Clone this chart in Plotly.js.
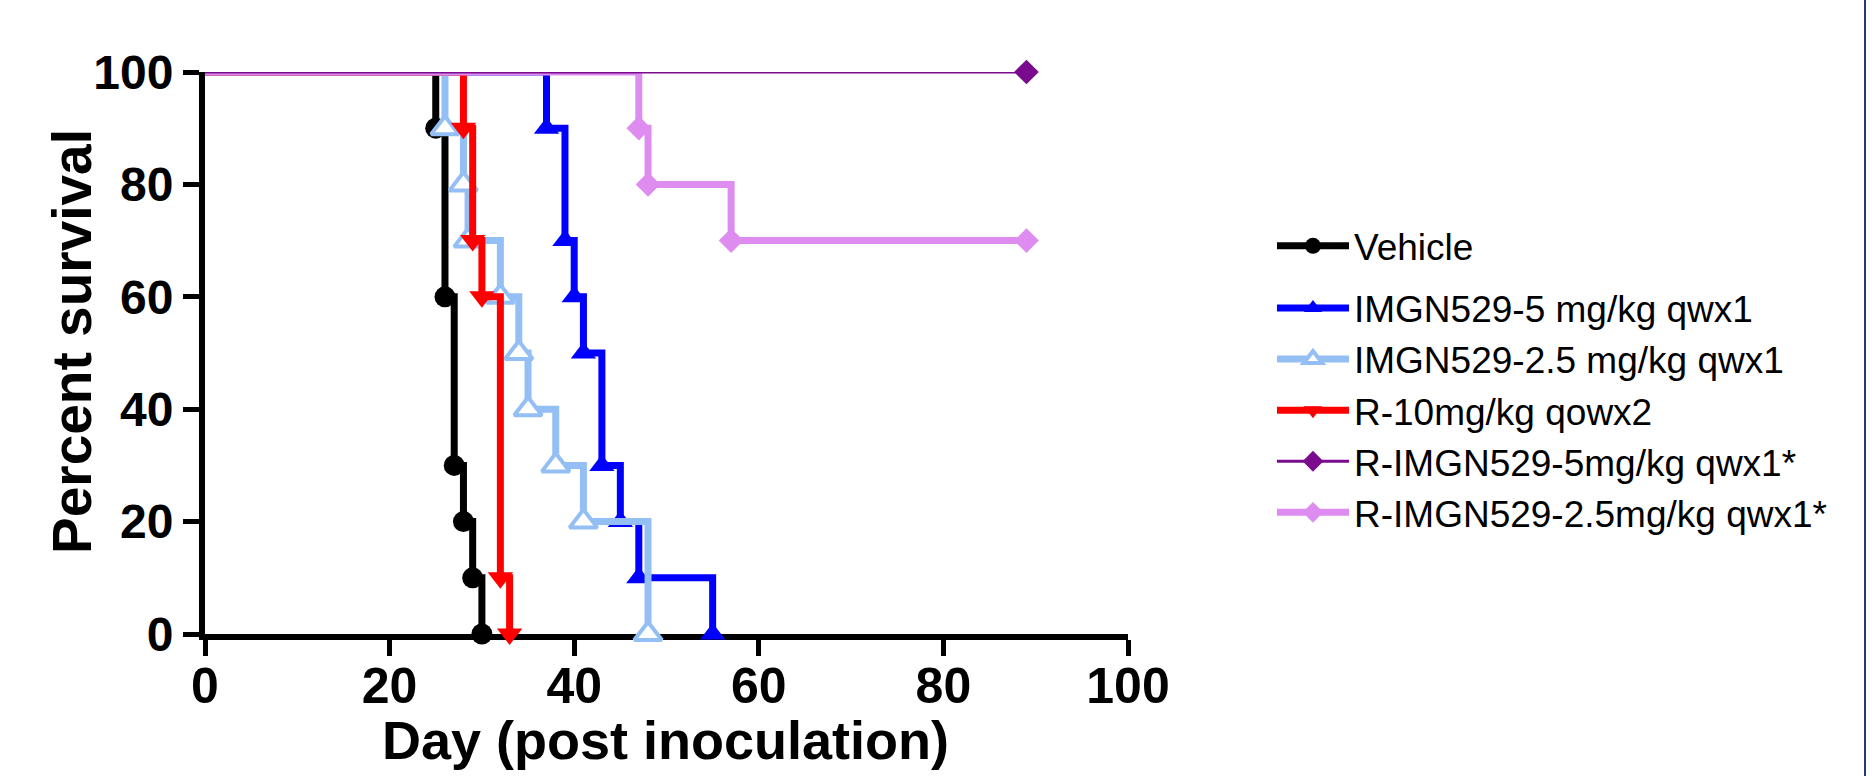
<!DOCTYPE html>
<html>
<head>
<meta charset="utf-8">
<script src="https://cdn.plot.ly/plotly-3.0.1.min.js"></script>
<style>
  html, body { margin: 0; padding: 0; background: #ffffff; overflow: hidden; }
  #chart { width: 1872px; height: 776px; }
  #edge { position: absolute; left: 1864px; top: 0; width: 2px; height: 776px; background: #1f3a75; }
</style>
</head>
<body>
<div id="chart"></div>
<div id="edge"></div>
<script>
// ---- data ----
const seriesNames = [
  "Vehicle",
  "IMGN529-5 mg/kg qwx1",
  "IMGN529-2.5 mg/kg qwx1",
  "R-10mg/kg qowx2",
  "R-IMGN529-5mg/kg qwx1*",
  "R-IMGN529-2.5mg/kg qwx1*"
];
const vehicleDays = [0, 25, 26, 27, 28, 29, 30];
const vehicleSurv = [100, 90, 60, 30, 20, 10, 0];
const imgn5Days = [0, 37, 39, 40, 41, 43, 45, 47, 55];
const imgn5Surv = [100, 90, 70, 60, 50, 30, 20, 10, 0];
const imgn25Days = [0, 26, 28, 28.5, 32, 34, 35, 38, 41, 48];
const imgn25Surv = [100, 90, 80, 70, 60, 50, 40, 30, 20, 0];
const r10Days = [0, 28, 29, 30, 32, 33];
const r10Surv = [100, 90, 70, 60, 10, 0];
const rImgn5Days = [0, 89];
const rImgn5Surv = [100, 100];
const rImgn25Days = [0, 47, 48, 57, 89];
const rImgn25Surv = [100, 90, 80, 70, 70];
const xTickVals = [0, 20, 40, 60, 80, 100];
const yTickVals = [0, 20, 40, 60, 80, 100];
const xTitle = "Day (post inoculation)";
const yTitle = "Percent survival";

// ---- styles ----
const FONT = "Liberation Sans, Arial, sans-serif";
const styles = [
  {color: "#000000", symbol: "circle", size: 21, lw: 7, fill: "#000000", mlw: 0},
  {color: "#0000ff", symbol: "triangle-up", size: 22, lw: 7, fill: "#0000ff", mlw: 0},
  {color: "#94bff5", symbol: "triangle-up", size: 24, lw: 7, fill: "#ffffff", mlw: 4},
  {color: "#ff0000", symbol: "triangle-down", size: 22, lw: 7, fill: "#ff0000", mlw: 0},
  {color: "#7b0b8e", symbol: "diamond", size: 19, lw: 3, fill: "#7b0b8e", mlw: 0},
  {color: "#de8cf0", symbol: "diamond", size: 19, lw: 7, fill: "#de8cf0", mlw: 0}
];
const seriesDays = [vehicleDays, imgn5Days, imgn25Days, r10Days, rImgn5Days, rImgn25Days];
const seriesSurv = [vehicleSurv, imgn5Surv, imgn25Surv, r10Surv, rImgn5Surv, rImgn25Surv];
// drawing order (bottom -> top), legend order kept by legendrank
const drawOrder = [0, 1, 2, 3, 5, 4];

const traces = [];
drawOrder.forEach(function (i) {
  const s = styles[i];
  const d = seriesDays[i], v = seriesSurv[i];
  const group = i === 0 ? "g1" : "g2";
  // leading step from day 0 to the first event (no marker)
  traces.push({
    type: "scatter", mode: "lines",
    x: d.slice(0, 2), y: v.slice(0, 2),
    line: {color: s.color, width: s.lw, shape: "hv"},
    showlegend: false, legendgroup: group, cliponaxis: false, hoverinfo: "skip"
  });
  // event points with markers
  traces.push({
    type: "scatter", mode: "lines+markers",
    name: seriesNames[i],
    x: d.slice(1), y: v.slice(1),
    line: {color: s.color, width: s.lw, shape: "hv"},
    marker: {symbol: s.symbol, size: s.size, color: s.fill,
             line: {color: s.color, width: s.mlw}},
    legendgroup: group, legendrank: i + 1, cliponaxis: false
  });
});

const axisCommon = {
  showgrid: false, zeroline: false, showline: true,
  linecolor: "#000000", linewidth: 6,
  ticks: "outside", ticklen: 16, tickwidth: 5, tickcolor: "#000000",
  layer: "below traces", fixedrange: true
};

const titleFont = {family: FONT, size: 54, weight: "bold", color: "#000000"};

const layout = {
  width: 1872, height: 776,
  margin: {l: 205, r: 744, t: 72, b: 142, pad: 0},
  paper_bgcolor: "#ffffff", plot_bgcolor: "#ffffff",
  font: {family: FONT, color: "#000000"},
  showlegend: true,
  xaxis: Object.assign({}, axisCommon, {
    range: [0, 100], tickvals: xTickVals, ticktext: xTickVals.map(String),
    tickfont: {family: FONT, size: 50, weight: "bold", color: "#000000"},
    ticklabelstandoff: -13
  }),
  yaxis: Object.assign({}, axisCommon, {
    range: [0, 100], tickvals: yTickVals, ticktext: yTickVals.map(String),
    tickfont: {family: FONT, size: 48, weight: "bold", color: "#000000"}
  }),
  annotations: [{
    text: yTitle, xref: "paper", yref: "paper", x: 0, y: 0.5,
    xanchor: "center", yanchor: "middle", xshift: -133, yshift: 11,
    textangle: -90, showarrow: false,
    font: Object.assign({}, titleFont, {size: 55})
  }, {
    text: xTitle, xref: "paper", yref: "paper", x: 0.5, y: 0,
    xanchor: "center", yanchor: "middle", xshift: -1, yshift: -106,
    showarrow: false, font: titleFont
  }],
  legend: {
    x: 1.156, xanchor: "left", y: 0.745, yanchor: "top",
    font: {family: FONT, size: 37, color: "#000000"},
    bgcolor: "rgba(0,0,0,0)", borderwidth: 0,
    traceorder: "grouped", tracegroupgap: 11, itemwidth: 72
  }
};

Plotly.newPlot("chart", traces, layout, {staticPlot: true, displayModeBar: false});
</script>
</body>
</html>
